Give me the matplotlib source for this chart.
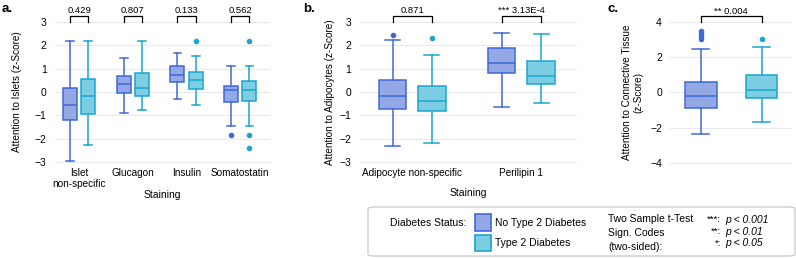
import matplotlib
matplotlib.use("Agg")
import matplotlib.pyplot as plt
from matplotlib.patches import FancyBboxPatch, Rectangle

plt.rcParams['font.family'] = ['Liberation Sans', 'DejaVu Sans']

# ---------------------------------------------------------------
#  Datos: whislo, q1, med, q3, whishi, fliers
# ---------------------------------------------------------------
grupos = ['No Type 2 Diabetes', 'Type 2 Diabetes']

islotes_cats = ['Islet\nnon-specific', 'Glucagon', 'Insulin', 'Somatostatin']
islotes_no = [
    (-2.93, -1.18, -0.55, 0.17, 2.20, []),
    (-0.90, -0.04, 0.34, 0.71, 1.44, []),
    (-0.28, 0.43, 0.74, 1.10, 1.66, []),
    (-1.47, -0.44, 0.07, 0.27, 1.12, [-1.83]),
]
islotes_t2 = [
    (-2.28, -0.92, -0.18, 0.57, 2.20, []),
    (-0.75, -0.18, 0.17, 0.81, 2.20, []),
    (-0.57, 0.14, 0.50, 0.88, 1.56, [2.19]),
    (-1.44, -0.36, 0.07, 0.48, 1.10, [2.19, -1.83, -2.39]),
]
islotes_p = ['0.429', '0.807', '0.133', '0.562']

adipo_cats = ['Adipocyte non-specific', 'Perilipin 1']
adipo_no = [
    (-2.33, -0.73, -0.18, 0.50, 2.25, [2.45]),
    (-0.63, 0.83, 1.25, 1.88, 2.52, []),
]
adipo_t2 = [
    (-2.16, -0.81, -0.36, 0.27, 1.59, [2.32]),
    (-0.47, 0.34, 0.68, 1.34, 2.49, []),
]
adipo_p = ['0.871', '*** 3.13E-4']

conect_no = [(-2.34, -0.87, -0.23, 0.60, 2.45, [3.47, 3.34, 3.19, 3.02])]
conect_t2 = [(-1.68, -0.30, 0.11, 0.98, 2.55, [3.02])]
conect_p = ['** 0.004']

# ---------------------------------------------------------------
#  Estilo
# ---------------------------------------------------------------
CARA = ['#93a8e4', '#7dcde3']
BORDE = ['#3f69d8', '#1aa5cf']
GRID = '#e7e9f5'
FS = 7.2


def stats(filas):
    out = []
    for lo, q1, med, q3, hi, fl in filas:
        out.append(dict(whislo=lo, q1=q1, med=med, q3=q3, whishi=hi, fliers=fl))
    return out


def cajas(ax, filas, pos, k, ancho):
    ax.bxp(stats(filas), positions=pos, widths=ancho, patch_artist=True,
           capwidths=ancho * 0.55, manage_ticks=False,
           boxprops=dict(facecolor=CARA[k], edgecolor=BORDE[k], lw=1.1),
           medianprops=dict(color=BORDE[k], lw=1.1),
           whiskerprops=dict(color=BORDE[k], lw=1.1),
           capprops=dict(color=BORDE[k], lw=1.1),
           flierprops=dict(marker='o', ms=3, mfc=BORDE[k], mec=BORDE[k]))


def corchete(ax, x1, x2, y0, y1, texto, ytxt):
    ax.plot([x1, x1, x2, x2], [y0, y1, y1, y0], color='black', lw=0.9,
            clip_on=False)
    ax.text((x1 + x2) / 2, ytxt, texto, ha='center', va='center',
            fontsize=6.8, clip_on=False)


def estilo(ax, yticks):
    for s in ax.spines.values():
        s.set_visible(False)
    ax.set_yticks(yticks)
    ax.tick_params(axis='y', length=0, labelsize=FS + 0.3, pad=6)
    ax.tick_params(axis='x', length=0, labelsize=FS, pad=2)
    ax.yaxis.grid(True, color=GRID, lw=0.8)
    ax.set_axisbelow(True)


fig = plt.figure(figsize=(7.96, 2.58), dpi=100)

# --- a. islotes ---
ax_a = fig.add_axes([0.069, 0.358, 0.270, 0.570])
d, w = 0.17, 0.26
xs = list(range(len(islotes_cats)))
cajas(ax_a, islotes_no, [x - d for x in xs], 0, w)
cajas(ax_a, islotes_t2, [x + d for x in xs], 1, w)
ax_a.set_xlim(-0.45, 3.55)
ax_a.set_ylim(-3.15, 3.15)
estilo(ax_a, range(-3, 4))
ax_a.set_xticks(xs)
ax_a.set_xticklabels(islotes_cats, fontsize=FS, linespacing=1.05)
ax_a.set_xlabel('Staining', fontsize=FS + 0.3, labelpad=0.5)
ax_a.set_ylabel('Attention to Islets (z-Score)', fontsize=FS, labelpad=9)
for x, p in zip(xs, islotes_p):
    corchete(ax_a, x - d, x + d, 3.0, 3.28, p, 3.5)

# --- b. adipocitos ---
ax_b = fig.add_axes([0.452, 0.358, 0.273, 0.570])
d, w = 0.18, 0.25
xs = list(range(len(adipo_cats)))
cajas(ax_b, adipo_no, [x - d for x in xs], 0, w)
cajas(ax_b, adipo_t2, [x + d for x in xs], 1, w)
ax_b.set_xlim(-0.48, 1.51)
ax_b.set_ylim(-3.15, 3.15)
estilo(ax_b, range(-3, 4))
ax_b.set_xticks(xs)
ax_b.set_xticklabels(adipo_cats, fontsize=FS)
ax_b.set_xlabel('Staining', fontsize=FS + 0.3, labelpad=7)
ax_b.set_ylabel('Attention to Adipocytes (z-Score)', fontsize=FS, labelpad=3)
for x, p in zip(xs, adipo_p):
    corchete(ax_b, x - d, x + d, 3.0, 3.28, p, 3.5)

# --- c. tejido conectivo ---
ax_c = fig.add_axes([0.842, 0.355, 0.153, 0.575])
d, w = 0.25, 0.26
cajas(ax_c, conect_no, [-d], 0, w)
cajas(ax_c, conect_t2, [d], 1, w)
ax_c.set_xlim(-0.5, 0.5)
ax_c.set_ylim(-4.2, 4.2)
estilo(ax_c, [-4, -2, 0, 2, 4])
ax_c.set_xticks([])
ax_c.set_ylabel('Attention to Connective Tissue\n(z-Score)', fontsize=FS,
                labelpad=5, linespacing=1.1)
corchete(ax_c, -d, d, 4.0, 4.32, conect_p[0], 4.55)

# letras de panel
for x, letra in [(0.002, 'a.'), (0.381, 'b.'), (0.763, 'c.')]:
    fig.text(x, 0.965, letra, fontsize=9.5, fontweight='bold', va='center')

# ---------------------------------------------------------------
#  Leyenda (caja inferior)
# ---------------------------------------------------------------
W, H = 796, 258


def fx(px):
    return px / W


def fy(py):
    return 1 - py / H


caja = FancyBboxPatch((fx(368), fy(256)), fx(795) - fx(368), fy(207) - fy(256),
                      boxstyle='round,pad=0,rounding_size=0.008',
                      transform=fig.transFigure, fc='white', ec='#c8c8c8',
                      lw=0.9)
fig.patches.append(caja)
fs_leg = 7.5
fig.text(fx(466), fy(223), 'Diabetes Status:', ha='right', va='center',
         fontsize=fs_leg)
for k, (y0, y1) in enumerate([(214, 231), (235, 251)]):
    fig.patches.append(Rectangle((fx(475), fy(y1)), fx(491) - fx(475),
                                 fy(y0) - fy(y1), transform=fig.transFigure,
                                 fc=CARA[k], ec=BORDE[k], lw=1.2))
    fig.text(fx(495), fy((y0 + y1) / 2), grupos[k], ha='left', va='center',
             fontsize=fs_leg)
for t, y in [('Two Sample t-Test', 219), ('Sign. Codes', 233),
             ('(two-sided):', 247)]:
    fig.text(fx(608), fy(y), t, ha='left', va='center', fontsize=fs_leg)
for est, p, y in [('***:', 'p < 0.001', 220), ('**:', 'p < 0.01', 232),
                  ('*:', 'p < 0.05', 243)]:
    fig.text(fx(721), fy(y), est, ha='right', va='center', fontsize=fs_leg - 0.7)
    fig.text(fx(725), fy(y), p, ha='left', va='center', fontsize=fs_leg,
             style='italic')

fig.savefig('out.png', dpi=100)
